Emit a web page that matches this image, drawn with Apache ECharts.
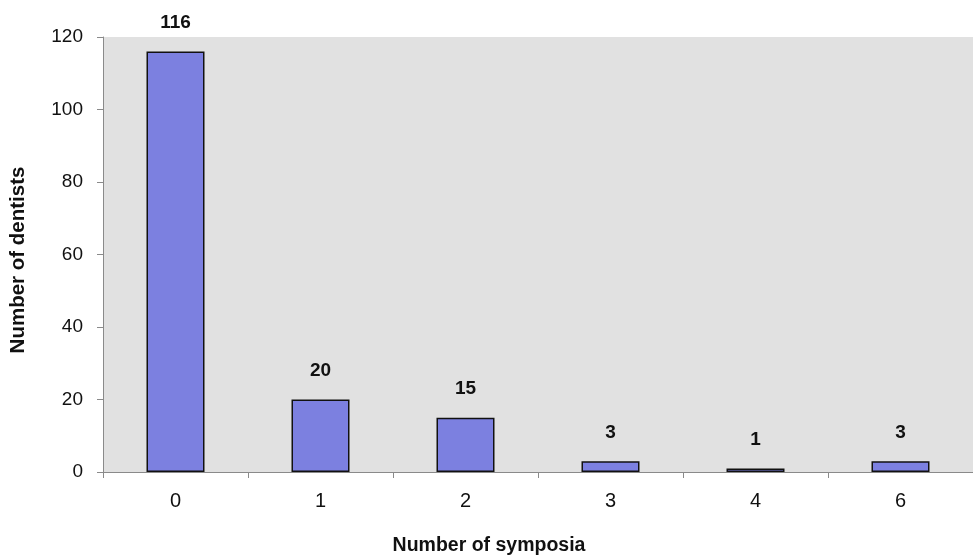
<!DOCTYPE html>
<html><head><meta charset="utf-8">
<script src="https://cdn.jsdelivr.net/npm/echarts@6/dist/echarts.min.js"></script>
<style>html,body{margin:0;padding:0;background:#fff}#c{width:973px;height:560px}</style>
</head><body><div id="c"></div>
<script>
const categories = ['0', '1', '2', '3', '4', '6'];
const dentists = [116, 20, 15, 3, 1, 3];
const yTicks = [0, 20, 40, 60, 80, 100, 120];

const chart = echarts.init(document.getElementById('c'), null, {renderer: 'canvas'});
const font = 'Liberation Sans, Arial, sans-serif';
chart.setOption({
  animation: false,
  grid: {left: 103, right: 0, top: 37, bottom: 88, containLabel: false, outerBoundsMode: 'none',
         show: true, backgroundColor: '#e1e1e1', borderWidth: 0},
  xAxis: {
    type: 'category', data: categories,
    name: 'Number of symposia', nameLocation: 'middle', nameGap: 64,
    nameTextStyle: {fontFamily: font, fontSize: 19.5, fontWeight: 'bold', color: '#111', padding: [0, 98, 0, 0]},
    axisLine: {lineStyle: {color: '#8a8a8a', width: 1}},
    axisTick: {show: true, length: 6, lineStyle: {color: '#8a8a8a'}},
    axisLabel: {fontFamily: font, fontSize: 20, color: '#111', margin: 19}
  },
  yAxis: {
    type: 'value', min: yTicks[0], max: yTicks[yTicks.length - 1], interval: 20,
    name: 'Number of dentists', nameLocation: 'middle', nameGap: 74,
    nameTextStyle: {fontFamily: font, fontSize: 20.5, fontWeight: 'bold', color: '#111', padding: [0, 11, 0, 0]},
    axisLine: {show: true, lineStyle: {color: '#8a8a8a', width: 1}},
    axisTick: {show: true, length: 6, lineStyle: {color: '#8a8a8a'}},
    axisLabel: {fontFamily: font, fontSize: 19, color: '#111', margin: 20},
    splitLine: {show: false}
  },
  series: [{
    type: 'bar', data: dentists, barWidth: '40%',
    itemStyle: {color: '#7c80e0', borderColor: '#111', borderWidth: 1.5},
    label: {show: true, position: 'top', distance: 19, fontFamily: font, fontSize: 19, fontWeight: 'bold', color: '#111'}
  }]
});
</script></body></html>
